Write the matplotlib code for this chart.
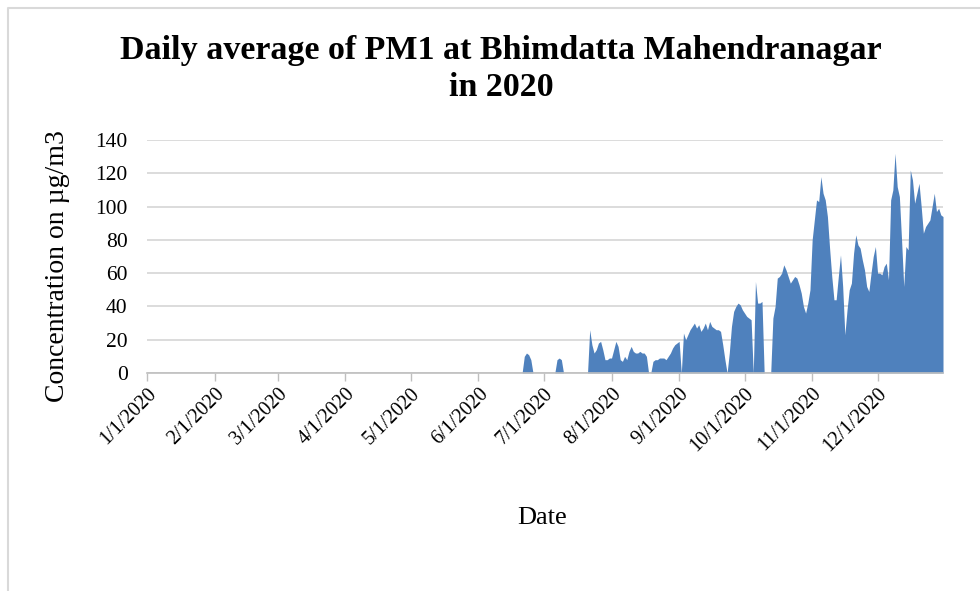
import numpy as np
import pandas as pd
import matplotlib
matplotlib.use("Agg")
import matplotlib.pyplot as plt
from matplotlib.lines import Line2D

# daily PM1 averages, 0 where no data was recorded
first_day = "2020-06-21"
jun = [0, 10, 12, 11, 8, 0, 0, 0, 0, 0]
jul = [0, 0, 0, 0, 0, 0, 8, 9, 8, 0,
       0, 0, 0, 0, 0, 0, 0, 0, 0, 0,
       0, 26, 17, 12, 14, 18, 19, 14, 8, 8, 9]
aug = [9, 14, 19, 16, 8, 7, 10, 8, 13, 16,
       13, 12, 12, 13, 12, 12, 10, 0, 0, 7,
       8, 8, 9, 9, 9, 8, 10, 12, 15, 17, 18]
sep = [19, 0, 24, 20, 23, 26, 28, 30, 27, 29,
       25, 27, 30, 26, 31, 28, 27, 26, 26, 25,
       17, 8, 0, 12, 28, 37, 40, 42, 41, 38]
oct_ = [36, 34, 33, 32, 0, 55, 42, 42, 43, 0,
        0, 0, 0, 33, 40, 57, 58, 60, 65, 62,
        58, 54, 56, 58, 57, 53, 48, 40, 36, 42, 50]
nov = [80, 92, 104, 103, 118, 108, 104, 94, 75, 58,
       44, 44, 58, 71, 52, 23, 38, 50, 54, 72,
       83, 77, 75, 68, 62, 52, 49, 60, 70, 76]
dec = [60, 60, 59, 64, 66, 56, 104, 110, 132, 112,
       106, 80, 52, 76, 74, 122, 116, 102, 108, 114,
       100, 84, 88, 90, 92, 100, 108, 97, 99, 95, 94]

month_ticks = ["2020-%02d-01" % m for m in range(1, 13)]
tick_labels = ["%d/1/2020" % m for m in range(1, 13)]
y_ticks = [0, 20, 40, 60, 80, 100, 120, 140]

values = jun + jul + aug + sep + oct_ + nov + dec
dates = pd.date_range(first_day, periods=len(values), freq="D")

serif = "Liberation Serif"
fig = plt.figure(figsize=(9.8, 5.91), dpi=100)
ax = fig.add_axes([147 / 980, 1 - 373 / 591, (943 - 147) / 980, (373 - 140) / 591])

ax.fill_between(dates, 0, values, color="#4F81BD", linewidth=0)

ax.set_xlim(pd.Timestamp("2020-01-01"), pd.Timestamp("2020-12-31"))
ax.set_ylim(0, 140)
ax.set_yticks(y_ticks)
ax.set_yticklabels([str(v) for v in y_ticks], fontfamily=serif, fontsize=15.5)
ax.yaxis.grid(True, color="#D9D9D9", linewidth=1.3)
ax.set_axisbelow(True)
ax.tick_params(axis="y", length=0, pad=14)

ax.set_xticks([pd.Timestamp(d) for d in month_ticks])
ax.set_xticklabels(tick_labels, rotation=45, ha="right", rotation_mode="anchor",
                   fontfamily=serif, fontsize=14.5)
ax.tick_params(axis="x", length=6, width=1, color="#BFBFBF", pad=2)

for s in ["top", "right", "left"]:
    ax.spines[s].set_visible(False)
ax.spines["bottom"].set_color("#BFBFBF")
ax.spines["bottom"].set_linewidth(1.2)

fig.text(57 / 980, 1 - 266 / 591, "Concentration on µg/m3", rotation=90,
         ha="center", va="center", fontfamily=serif, fontsize=20)
fig.text(542 / 980, 1 - 518 / 591, "Date", ha="center", va="center",
         fontfamily=serif, fontsize=19)
fig.text(501 / 980, 1 - 50 / 591, "Daily average of PM1 at Bhimdatta Mahendranagar",
         ha="center", va="center", fontfamily=serif, fontsize=24.5, fontweight="bold")
fig.text(501 / 980, 1 - 88 / 591, "in 2020", ha="center", va="center",
         fontfamily=serif, fontsize=24.5, fontweight="bold")

# chart border (top and left edges visible)
fig.add_artist(Line2D([8 / 980, 8 / 980, 1], [0, 1 - 8 / 591, 1 - 8 / 591],
                      transform=fig.transFigure, color="#D9D9D9", linewidth=1.5))

fig.savefig("out.png", dpi=100)
